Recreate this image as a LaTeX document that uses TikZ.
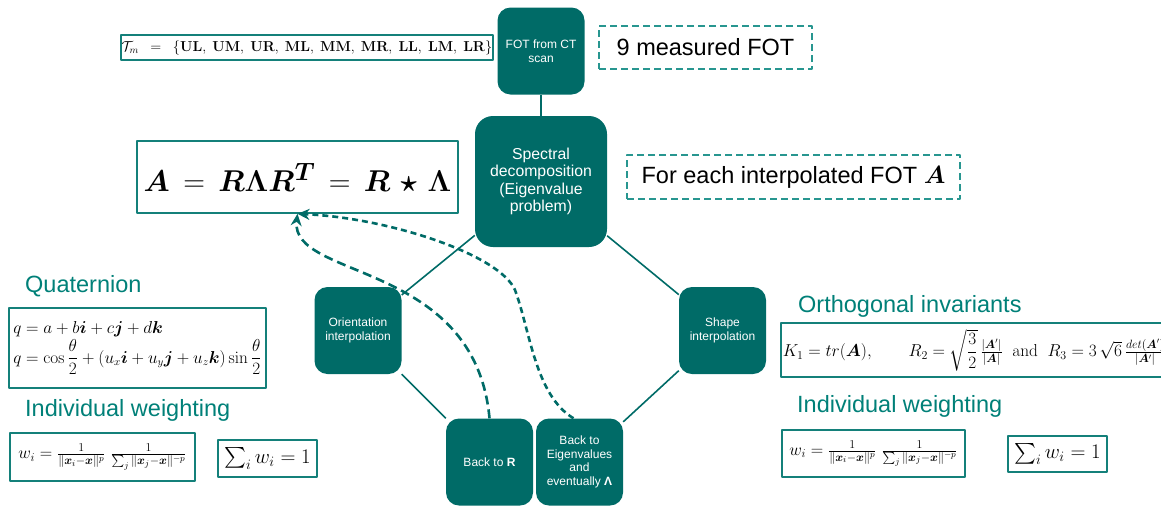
\documentclass[tikz,border=0pt]{standalone}
\usepackage{amsmath}
\usepackage{bm}
\usepackage{graphicx}
\usepackage[no-math]{fontspec}
\setmainfont{Liberation Sans}
\usetikzlibrary{arrows.meta}
\definecolor{boxteal}{RGB}{0,107,103}
\definecolor{lineteal}{RGB}{20,128,122}
\definecolor{dashteal}{RGB}{40,150,144}
\definecolor{labelteal}{RGB}{0,128,120}
\begin{document}
\begin{tikzpicture}[x=1pt,y=-1pt,>={Stealth[length=12pt,width=11pt]},line join=round,
    tealbox/.style={fill=boxteal,rounded corners=13pt,text=white,align=center,inner sep=2pt,
        minimum width=87pt,minimum height=87pt,font=\fontsize{12}{13.5}\selectfont},
    mathbox/.style={draw=lineteal,line width=1.6pt,inner sep=2pt},
    notebox/.style={draw=dashteal,dash pattern=on 7pt off 4pt,line width=1.6pt,
        font=\fontsize{23.5}{28}\selectfont},
    heading/.style={text=labelteal,inner sep=0pt,anchor=base west,font=\fontsize{23.5}{28}\selectfont},
    link/.style={draw=boxteal,line width=1.6pt},
    backlink/.style={draw=boxteal,line width=2.6pt,dash pattern=on 9pt off 5pt}]
    \useasboundingbox (0,0) rectangle (1161,507);
    \node[tealbox] (fot) at (541,51) {FOT from CT\\scan};
    \node[tealbox,minimum width=132pt,minimum height=131pt,rounded corners=18pt,
        font=\fontsize{15.8}{17.5}\selectfont] (spec) at (541,181.5) {Spectral\\decomposition\\(Eigenvalue\\problem)};
    \node[tealbox] (orient) at (358,330.5) {Orientation\\interpolation};
    \node[tealbox] (shape) at (722.5,330.5) {Shape\\interpolation};
    \node[tealbox] (backR) at (489.5,462) {Back to \textbf{R}};
    \node[tealbox] (backE) at (579.5,462) {Back to\\Eigenvalues\\and\\eventually \textbf{Λ}};

    \node[mathbox,minimum width=368pt,minimum height=25pt,inner sep=1pt,font=\fontsize{13.6}{16}\selectfont] (tset) at (307,47.5)
        {$\mathcal{T}_m\ \ =\ \ \{\mathbf{UL,\ UM,\ UR,\ ML,\ MM,\ MR,\ LL,\ LM,\ LR}\}$};
    \node[notebox,minimum width=213pt,minimum height=43pt] (measured) at (705.5,47.5) {9 measured FOT};
    \node[mathbox,minimum width=321pt,minimum height=72pt,font=\fontsize{24.88}{28}\selectfont] (eq) at (297.5,177)
        {\scalebox{1.21}{$\bm{A} \mkern3mu=\mkern3mu \bm{R}\bm{\Lambda}\bm{R}^{\bm{T}} \mkern3mu=\mkern3mu \bm{R} \mkern2mu\bm{\star}\mkern2mu \bm{\Lambda}$}};
    \node[notebox,minimum width=333pt,minimum height=44pt] (each) at (793.5,177) {For each interpolated FOT $\bm{A}$};

    \node[heading] (quatlabel) at (25,292) {Quaternion};
    \node[mathbox,minimum width=257pt,minimum height=80pt,align=left,font=\fontsize{16}{19}\selectfont] (quat) at (137.5,348)
        {$q = a + b\bm{i} + c\bm{j} + d\bm{k}$\\[2pt]
         $q = \cos\dfrac{\theta}{2} + (u_x\bm{i} + u_y\bm{j} + u_z\bm{k})\sin\dfrac{\theta}{2}$};
    \node[heading] (lwlabel) at (25,416) {Individual weighting};
    \node[mathbox,minimum width=185pt,minimum height=48pt,font=\fontsize{18}{22}\selectfont] (lw) at (102.5,457)
        {$w_i = \frac{1}{\|\bm{x}_i - \bm{x}\|^p}\ \frac{1}{\sum_j \|\bm{x}_j - \bm{x}\|^{-p}}$};
    \node[mathbox,minimum width=99pt,minimum height=37pt,font=\fontsize{21}{25}\selectfont] (lsum) at (267.5,458.5)
        {$\sum_i w_i = 1$};

    \node[heading] (orthlabel) at (798,312) {Orthogonal invariants};
    \node[mathbox,anchor=west,minimum width=378pt,minimum height=54pt,font=\fontsize{17}{21}\selectfont] (orth) at (780,350)
        {$K_1 = tr(\bm{A}),\qquad R_2 = \sqrt{\dfrac{3}{2}}\,\frac{|\bm{A}'|}{|\bm{A}|}\;\; \mathrm{and}\;\; R_3 = 3\,\sqrt{6}\,\frac{det(\bm{A}')}{|\bm{A}'|}$};
    \node[heading] (rwlabel) at (797,412) {Individual weighting};
    \node[mathbox,minimum width=183pt,minimum height=47pt,font=\fontsize{18}{22}\selectfont] (rw) at (873.5,453.5)
        {$w_i = \frac{1}{\|\bm{x}_i - \bm{x}\|^p}\ \frac{1}{\sum_j \|\bm{x}_j - \bm{x}\|^{-p}}$};
    \node[mathbox,minimum width=99pt,minimum height=36pt,font=\fontsize{21}{25}\selectfont] (rsum) at (1057.5,454)
        {$\sum_i w_i = 1$};

    \draw[link] (fot) -- (spec);
    \draw[link] (spec) -- (orient);
    \draw[link] (spec) -- (shape);
    \draw[link] (orient) -- (backR);
    \draw[link] (shape) -- (backE);
    \draw[backlink,->] (backR.north) .. controls (475,260) and (290,280) .. (eq.south);
    \draw[backlink,dash pattern=on 6pt off 4pt,->] ([xshift=-6pt]backE.north) .. controls (535,395) and (530,330) .. (515,290)
        .. controls (500,255) and (390,218) .. (eq.south);
\end{tikzpicture}
\end{document}
